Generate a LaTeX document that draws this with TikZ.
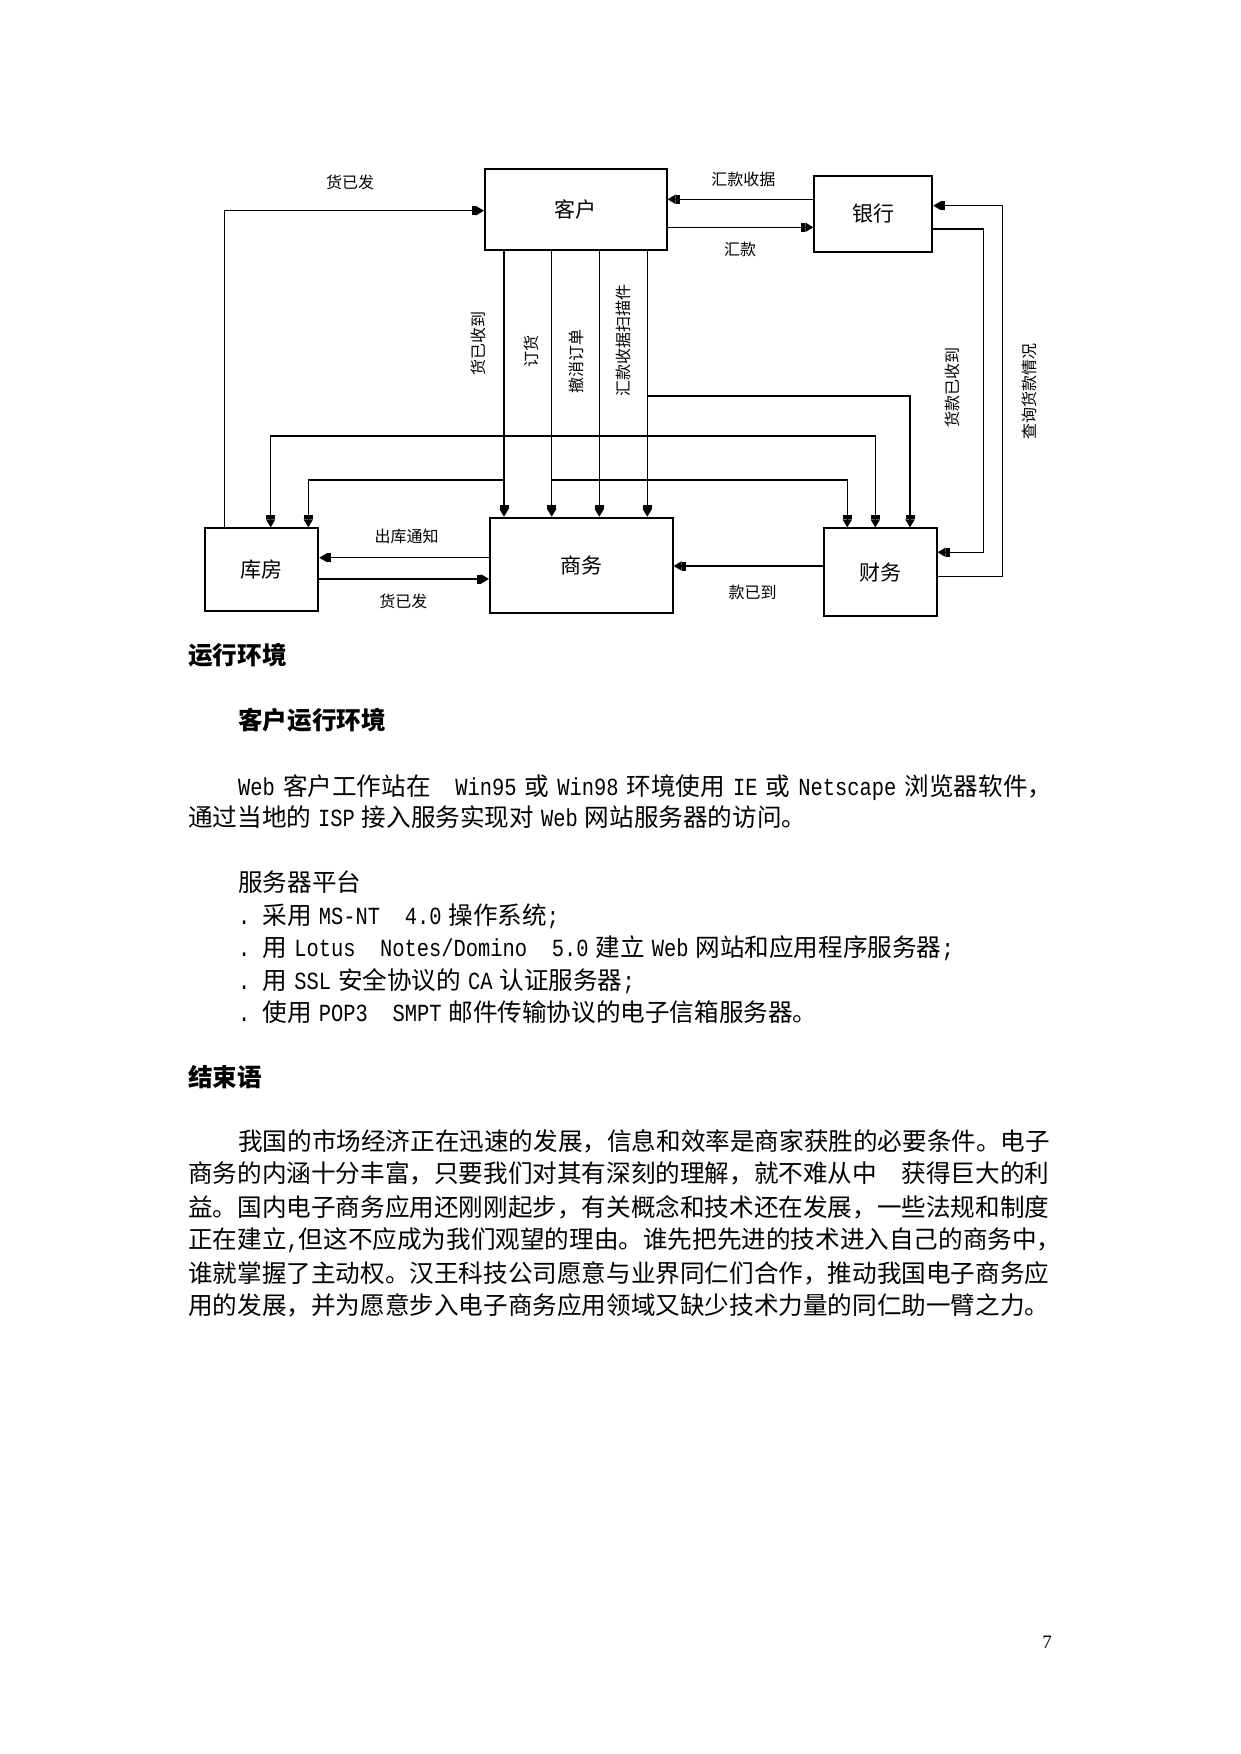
\documentclass[tikz,border=0pt]{standalone}
\usepackage{fontspec}
\setmainfont{Noto Sans CJK SC}
\newfontfamily\latfont[FakeStretch=0.83]{Liberation Mono}
\newfontfamily\pnfont{Liberation Serif}
\usetikzlibrary{arrows.meta}
\XeTeXlinebreaklocale "zh"
\XeTeXlinebreakskip=0pt plus 2pt
\newcommand\LS[1]{{\latfont #1}}
\newcommand\G{\hspace{7pt plus 3pt}}
\tikzset{
  box/.style={draw, line width=1.8pt, inner sep=0pt, font=\fontsize{21}{21}\selectfont},
  tipE/.tip={Rectangle[length=4pt,width=9pt,sep=0pt] Triangle[length=8pt,width=9pt]},
  arr/.style={line width=1.5pt, -{tipE}},
  arrb/.style={line width=1.5pt, {tipE}-{tipE}},
  lab/.style={inner sep=0pt, font=\fontsize{16}{16}\selectfont},
  vlab/.style={lab, rotate=90},
  body/.style={anchor=base west, inner sep=0pt, font=\fontsize{24.6}{30}\selectfont},
  head/.style={anchor=base west, inner sep=0pt, font=\fontsize{24.6}{30}\selectfont\bfseries},
}
\begin{document}
\begin{tikzpicture}[x=1pt,y=-1pt]
\fill[white] (0,0) rectangle (1241,1754);
\useasboundingbox (0,0) rectangle (1241,1754);

% boxes
\node[box, minimum width=181.7pt, minimum height=80.7pt] (kehu) at (575.8,209.7) {客户};
\node[box, minimum width=118pt, minimum height=76pt] (yinhang) at (873.3,213.7) {银行};
\node[box, minimum width=182.7pt, minimum height=95.6pt] (shangwu) at (581.3,565.5) {商务};
\node[box, minimum width=113.3pt, minimum height=82.4pt] (kufang) at (261.7,569.5) {库房};
\node[box, minimum width=112.7pt, minimum height=87.7pt] (caiwu) at (880.3,572.2) {财务};

% helper coordinates
\coordinate (xa) at (224.3,0);
\coordinate (v1) at (504,0);
\coordinate (v2) at (551.7,0);
\coordinate (v3) at (599.3,0);
\coordinate (v4) at (647.3,0);
\coordinate (k1) at (270.7,0);
\coordinate (k2) at (308.3,0);
\coordinate (c1) at (847.3,0);
\coordinate (c2) at (875.3,0);
\coordinate (c3) at (910,0);
\coordinate (rb1) at (983.3,0);
\coordinate (rb2) at (1002.3,0);
\coordinate (ytop) at (0,210.7);
\coordinate (yhk) at (0,199.3);
\coordinate (yhk2) at (0,227.3);
\coordinate (ybr1) at (0,229);
\coordinate (ycw1) at (0,552.3);
\coordinate (ycw2) at (0,576.7);
\coordinate (ybr2) at (0,205.7);
\coordinate (ykyd) at (0,566);
\coordinate (yck) at (0,557.7);
\coordinate (yhf) at (0,579);
\coordinate (y396) at (0,396);
\coordinate (y436) at (0,436);
\coordinate (y480) at (0,480);

% connectors
\draw[arr] (kufang.north -| xa) |- (kehu.west |- ytop);
\draw[arr] (yinhang.west |- yhk) -- (kehu.east |- yhk);
\draw[arr] (kehu.east |- yhk2) -- (yinhang.west |- yhk2);
\draw[arr] (yinhang.east |- ybr1) -| (rb1 |- ycw1) -- (caiwu.east |- ycw1);
\draw[arr] (caiwu.east |- ycw2) -| (rb2 |- ybr2) -- (yinhang.east |- ybr2);
\draw[arr] (caiwu.west |- ykyd) -- (shangwu.east |- ykyd);
\draw[arr] (shangwu.west |- yck) -- (kufang.east |- yck);
\draw[arr] (kufang.east |- yhf) -- (shangwu.west |- yhf);
\foreach \v in {v1,v2,v3,v4} \draw[arr] (kehu.south -| \v) -- (shangwu.north -| \v);
\draw[arr] (v1 |- y480) -| (kufang.north -| k2);
\draw[arr] (v2 |- y480) -| (caiwu.north -| c1);
\draw[arr] (v4 |- y396) -| (caiwu.north -| c3);
\draw[arrb] (kufang.north -| k1) |- (v3 |- y436) -| (caiwu.north -| c2);

% connector labels
\node[lab] (la1) at (350,182.3) {货已发};
\node[lab] (la2) at (743.3,179.3) {汇款收据};
\node[lab] (la3) at (740,249) {汇款};
\node[lab] (la4) at (406.7,536) {出库通知};
\node[lab] (la5) at (403.3,601.7) {货已发};
\node[lab] (la6) at (752.7,592.7) {款已到};
\node[vlab] (lv1) at (478,343) {货已收到};
\node[vlab] (lv2) at (531.7,351) {订货};
\node[vlab] (lv3) at (576.7,361.5) {撤消订单};
\node[vlab] (lv4) at (623.3,340) {汇款收据扫描件};
\node[vlab] (lv5) at (952.3,387.5) {货款已收到};
\node[vlab] (lv6) at (1029.3,391.7) {查询货款情况};

% text
\node[head] (h1) at (188,664.3) {运行环境};
\node[head] (h2) at (238,729.3) {客户运行环境};
\node[body] (t1) at (238,795.3) {\hbox to 814pt{\LS{Web}\G 客户工作站在　\LS{Win95}\G 或\G\LS{Win98}\G 环境使用\G\LS{IE}\G 或\G\LS{Netscape}\G 浏览器软件，}};
\node[body] (t2) at (188,826) {通过当地的\G\LS{ISP}\G 接入服务实现对\G\LS{Web}\G 网站服务器的访问。};
\node[body] (t3) at (238,891) {服务器平台};
\node[body] (t4) at (238,924.3) {\LS{.\ }采用\G\LS{MS-NT}　\LS{4.0}\G 操作系统\LS{;}};
\node[body] (t5) at (238,956) {\LS{.\ }用\G\LS{Lotus}　\LS{Notes/Domino}　\LS{5.0}\G 建立\G\LS{Web}\G 网站和应用程序服务器\LS{;}};
\node[body] (t6) at (238,989.3) {\LS{.\ }用\G\LS{SSL}\G 安全协议的\G\LS{CA}\G 认证服务器\LS{;}};
\node[body] (t7) at (238,1021) {\LS{.\ }使用\G\LS{POP3}　\LS{SMPT}\G 邮件传输协议的电子信箱服务器。};
\node[head] (h3) at (188,1086) {结束语};
\node[body] (p1) at (238,1150) {\hbox to 814pt{我国的市场经济正在迅速的发展，信息和效率是商家获胜的必要条件。电子}};
\node[body] (p2) at (188,1182.6) {\hbox to 864pt{商务的内涵十分丰富，只要我们对其有深刻的理解，就不难从中　获得巨大的利}};
\node[body] (p3) at (188,1216) {\hbox to 864pt{益。国内电子商务应用还刚刚起步，有关概念和技术还在发展，一些法规和制度}};
\node[body] (p4) at (188,1248.6) {\hbox to 864pt{正在建立\LS{,}但这不应成为我们观望的理由。谁先把先进的技术进入自己的商务中，}};
\node[body] (p5) at (188,1282) {\hbox to 864pt{谁就掌握了主动权。汉王科技公司愿意与业界同仁们合作，推动我国电子商务应}};
\node[body] (p6) at (188,1314.3) {用的发展，并为愿意步入电子商务应用领域又缺少技术力量的同仁助一臂之力。};
\node[inner sep=0pt, font=\pnfont\fontsize{19}{19}\selectfont] (pn) at (1047,1642) {7};
\end{tikzpicture}
\end{document}
